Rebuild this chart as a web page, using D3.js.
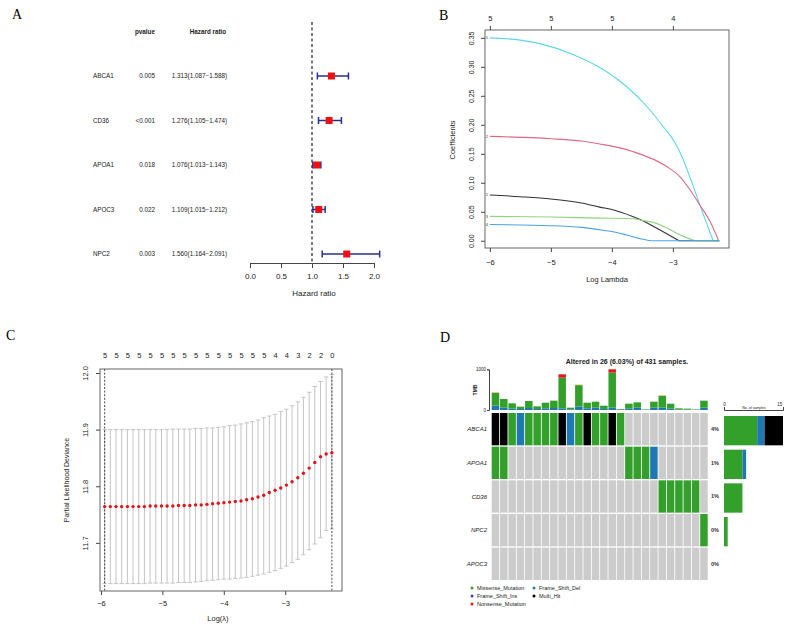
<!DOCTYPE html>
<html>
<head>
<meta charset="utf-8">
<script src="https://cdn.jsdelivr.net/npm/d3@7"></script>
<style>
  body { margin: 0; background: #fff; }
  svg { font-family: "Liberation Sans", Arial, sans-serif; }
  .panel-label { font-family: "Liberation Serif", "Times New Roman", serif; font-size: 14px; }
</style>
</head>
<body>
<svg id="chart" width="790" height="630"></svg>
<script>
// ---- A: univariate cox forest plot
const coxGenes = ['ABCA1', 'CD36', 'APOA1', 'APOC3', 'NPC2'];
const coxPvalues = ['0.005', '<0.001', '0.018', '0.022', '0.003'];
const coxHR = [1.313, 1.276, 1.076, 1.109, 1.560];
const coxLow = [1.087, 1.105, 1.013, 1.015, 1.164];
const coxHigh = [1.588, 1.474, 1.143, 1.212, 2.091];
const hrTicks = [0, 0.5, 1, 1.5, 2];

// ---- B: lasso coefficient paths  [log lambda, coefficient]
const pathCyan = [[-6, 0.350], [-5.5, 0.346], [-5.18, 0.340], [-4.63, 0.321], [-4.09, 0.292], [-3.76, 0.266],
  [-3.43, 0.232], [-3.16, 0.197], [-2.97, 0.170], [-2.85, 0.145], [-2.67, 0.095], [-2.5, 0.045], [-2.34, 0], [-2.24, 0]];
const pathPink = [[-6, 0.180], [-5, 0.176], [-4.5, 0.172], [-4.2, 0.167], [-3.66, 0.154], [-3.1, 0.128], [-2.89, 0.111],
  [-2.72, 0.088], [-2.56, 0.062], [-2.39, 0.033], [-2.25, 0], [-2.24, 0]];
const pathBlack = [[-6, 0.079], [-5.5, 0.076], [-5, 0.072], [-4.5, 0.065], [-4.2, 0.058], [-4, 0.054], [-3.66, 0.042],
  [-3.5, 0.035], [-3.27, 0.022], [-3.1, 0.012], [-2.9, 0], [-2.24, 0]];
const pathGreen = [[-6, 0.042], [-5, 0.041], [-4.2, 0.039], [-3.66, 0.038], [-3.5, 0.035], [-3.27, 0.030], [-3.1, 0.022],
  [-2.94, 0.013], [-2.64, 0], [-2.24, 0]];
const pathBlue = [[-6, 0.028], [-5, 0.026], [-4.5, 0.023], [-4.2, 0.019], [-4, 0.016], [-3.76, 0.010], [-3.55, 0.004],
  [-3.35, 0], [-2.24, 0]];
const pathLabels = ['5', '2', '1', '3', '4'];
const lambdaTicksB = [-6, -5, -4, -3];
const nzeroB = ['5', '5', '5', '4'];
const coefTicks = [0, 0.05, 0.1, 0.15, 0.2, 0.25, 0.3, 0.35];

// ---- C: cross-validation curve
const cvLambda = [-5.940, -5.848, -5.755, -5.663, -5.570, -5.478, -5.385, -5.293, -5.200, -5.108, -5.015,
  -4.923, -4.830, -4.738, -4.645, -4.553, -4.460, -4.368, -4.275, -4.183, -4.090, -3.998, -3.905, -3.813,
  -3.720, -3.628, -3.535, -3.443, -3.350, -3.258, -3.165, -3.073, -2.980, -2.888, -2.795, -2.703, -2.610,
  -2.518, -2.425, -2.333, -2.240];
const cvMean = [11.764, 11.764, 11.764, 11.764, 11.764, 11.764, 11.764, 11.764, 11.765, 11.765, 11.765,
  11.765, 11.765, 11.766, 11.766, 11.766, 11.767, 11.767, 11.768, 11.769, 11.770, 11.771, 11.772, 11.773,
  11.774, 11.776, 11.778, 11.781, 11.784, 11.789, 11.793, 11.797, 11.802, 11.808, 11.815, 11.823, 11.832,
  11.842, 11.852, 11.857, 11.859];
const cvUpper = [11.900, 11.900, 11.900, 11.900, 11.900, 11.900, 11.900, 11.900, 11.900, 11.900, 11.900,
  11.900, 11.901, 11.901, 11.901, 11.901, 11.902, 11.902, 11.903, 11.903, 11.904, 11.905, 11.907, 11.908,
  11.910, 11.912, 11.914, 11.917, 11.921, 11.924, 11.927, 11.932, 11.936, 11.942, 11.949, 11.957, 11.966,
  11.976, 11.985, 11.993, 11.997];
const cvLower = [11.628, 11.628, 11.628, 11.628, 11.628, 11.628, 11.628, 11.628, 11.629, 11.629, 11.629,
  11.629, 11.629, 11.630, 11.630, 11.630, 11.631, 11.632, 11.633, 11.634, 11.635, 11.636, 11.636, 11.637,
  11.638, 11.639, 11.641, 11.643, 11.645, 11.648, 11.651, 11.655, 11.659, 11.665, 11.671, 11.679, 11.688,
  11.698, 11.709, 11.722, 11.725];
const nzeroC = ['5', '5', '5', '5', '5', '5', '5', '5', '5', '5', '5', '5', '5', '5', '5', '4', '4', '3', '2', '2', '0'];
const lambdaTicksC = [-6, -5, -4, -3];
const devianceTicks = [11.7, 11.8, 11.9, 12.0];

// ---- D: oncoplot
const oncoGenes = ['ABCA1', 'APOA1', 'CD36', 'NPC2', 'APOC3'];
const oncoPct = ['4%', '1%', '1%', '0%', '0%'];
// M = Missense_Mutation, D = Frame_Shift_Del, H = Multi_Hit
const oncoABCA1 = ['H', 'H', 'M', 'D', 'M', 'M', 'M', 'M', 'H', 'D', 'M', 'H', 'M', 'M', 'H', 'M', '', '', '', '', '', '', '', '', '', ''];
const oncoAPOA1 = ['M', 'M', '', '', '', '', '', '', '', '', '', '', '', '', '', '', 'M', 'M', 'M', 'D', '', '', '', '', '', ''];
const oncoCD36 = ['', '', '', '', '', '', '', '', '', '', '', '', '', '', '', '', '', '', '', '', 'M', 'M', 'M', 'M', 'M', ''];
const oncoNPC2 = ['', '', '', '', '', '', '', '', '', '', '', '', '', '', '', '', '', '', '', '', '', '', '', '', '', 'M'];
const oncoAPOC3 = ['', '', '', '', '', '', '', '', '', '', '', '', '', '', '', '', '', '', '', '', '', '', '', '', '', ''];
const tmbDel = [106, 57, 33, 25, 49, 25, 41, 49, 41, 16, 82, 41, 57, 25, 57, 8, 33, 57, 8, 57, 57, 33, 8, 8, 8, 57];
const tmbMissense = [316, 213, 131, 57, 172, 65, 139, 181, 754, 41, 529, 139, 147, 81, 863, 17, 122, 131, 8, 147, 291, 122, 33, 25, 8, 172];
const tmbNonsense = [0, 0, 0, 0, 0, 0, 0, 0, 82, 0, 0, 0, 0, 0, 80, 0, 0, 0, 0, 0, 0, 0, 0, 0, 0, 0];
const tmbOther = [12, 0, 0, 0, 0, 0, 0, 0, 0, 0, 12, 0, 0, 0, 0, 0, 0, 0, 0, 0, 12, 0, 0, 0, 0, 0];
const sideMissense = [9, 5, 5, 1, 0];
const sideDel = [2, 1, 0, 0, 0];
const sideMulti = [5, 0, 0, 0, 0];
const legendNames = ['Missense_Mutation', 'Frame_Shift_Ins', 'Nonsense_Mutation', 'Frame_Shift_Del', 'Multi_Hit'];

const vcColor = {
  M: '#33A02C', D: '#1F78B4', H: '#000000', N: '#E31A1C', I: '#4B3D9A', O: '#F0A22A',
  Missense_Mutation: '#33A02C', Frame_Shift_Del: '#1F78B4', Frame_Shift_Ins: '#4B3D9A',
  Nonsense_Mutation: '#E31A1C', Multi_Hit: '#000000'
};

const svg = d3.select('#chart');
svg.append('rect').attr('width', 790).attr('height', 630).attr('fill', '#fff');

function panelLabel(x, y, t) {
  svg.append('text').attr('class', 'panel-label').attr('x', x).attr('y', y).text(t);
}

function styleAxis(g, size, keepDomain) {
  g.attr('font-family', null).attr('font-size', size);
  if (!keepDomain) g.selectAll('.domain').remove();
  g.selectAll('.domain').attr('stroke', '#444');
  g.selectAll('line').attr('stroke', '#444');
  g.selectAll('text').attr('fill', '#222');
}

// rotate left-axis labels R style (parallel to axis)
function rotateLeftLabels(g, offset) {
  g.selectAll('.tick text')
    .attr('transform', 'rotate(-90)')
    .attr('x', 0).attr('y', -offset).attr('dy', 0)
    .attr('text-anchor', 'middle');
}

// ================= A =================
panelLabel(12, 19, 'A');
const gA = svg.append('g');
const xHR = d3.scaleLinear().domain([0, 2]).range([250, 374]);
const yA = d3.scalePoint().domain(coxGenes).range([76, 254]);

const axA = gA.append('g').attr('transform', 'translate(0,263)')
  .call(d3.axisBottom(xHR).tickValues(hrTicks).tickFormat(d3.format('.1f')).tickSize(5).tickSizeOuter(0).tickPadding(5));
styleAxis(axA, 8, true);

gA.append('text').attr('x', 314).attr('y', 296).attr('text-anchor', 'middle')
  .attr('font-size', 8).attr('fill', '#222').text('Hazard ratio');

gA.append('line')
  .attr('x1', xHR(1)).attr('x2', xHR(1)).attr('y1', 22).attr('y2', 263)
  .attr('stroke', '#222').attr('stroke-width', 1.2).attr('stroke-dasharray', '3,2.5');

gA.append('text').attr('x', 145).attr('y', 34).attr('text-anchor', 'middle')
  .attr('font-size', 6.3).attr('font-weight', 'bold').attr('fill', '#222').text('pvalue');
gA.append('text').attr('x', 208).attr('y', 34).attr('text-anchor', 'middle')
  .attr('font-size', 6.3).attr('font-weight', 'bold').attr('fill', '#222').text('Hazard ratio');

const rowsA = gA.selectAll('.cox-row')
  .data(coxGenes.map((g, i) => ({ gene: g, p: coxPvalues[i], hr: coxHR[i], lo: coxLow[i], hi: coxHigh[i] })))
  .join('g').attr('class', 'cox-row')
  .attr('transform', d => `translate(0,${yA(d.gene)})`);

rowsA.append('text').attr('x', 93).attr('dy', '0.35em').attr('font-size', 6.3).attr('fill', '#222').text(d => d.gene);
rowsA.append('text').attr('x', 155).attr('dy', '0.35em').attr('text-anchor', 'end')
  .attr('font-size', 6.3).attr('fill', '#222').text(d => d.p);
rowsA.append('text').attr('x', 227).attr('dy', '0.35em').attr('text-anchor', 'end')
  .attr('font-size', 6.3).attr('fill', '#222')
  .text(d => `${d.hr.toFixed(3)}(${d.lo.toFixed(3)}\u2212${d.hi.toFixed(3)})`);

const navy = '#27308f';
rowsA.append('line').attr('x1', d => xHR(d.lo)).attr('x2', d => xHR(d.hi))
  .attr('stroke', navy).attr('stroke-width', 1.5);
rowsA.append('line').attr('x1', d => xHR(d.lo)).attr('x2', d => xHR(d.lo)).attr('y1', -3.5).attr('y2', 3.5)
  .attr('stroke', navy).attr('stroke-width', 1.5);
rowsA.append('line').attr('x1', d => xHR(d.hi)).attr('x2', d => xHR(d.hi)).attr('y1', -3.5).attr('y2', 3.5)
  .attr('stroke', navy).attr('stroke-width', 1.5);
rowsA.append('rect').attr('x', d => xHR(d.hr) - 3.5).attr('y', -3.5).attr('width', 7).attr('height', 7)
  .attr('fill', '#ee1111');

// ================= B =================
panelLabel(439, 20, 'B');
const gB = svg.append('g');
const xB = d3.scaleLinear().domain([-6.08, -2.08]).range([485, 729]);
const yB = d3.scaleLinear().domain([-0.0125, 0.3635]).range([248, 30]);

const axBl = gB.append('g').attr('transform', 'translate(485,0)')
  .call(d3.axisLeft(yB).tickValues(coefTicks).tickFormat(d3.format('.2f')).tickSize(4));
styleAxis(axBl, 7);
rotateLeftLabels(axBl, 11);

const axBb = gB.append('g').attr('transform', 'translate(0,248)')
  .call(d3.axisBottom(xB).tickValues(lambdaTicksB).tickFormat(d => d < 0 ? '\u2212' + Math.abs(d) : d).tickSize(4).tickPadding(8));
styleAxis(axBb, 7.5);

const axBt = gB.append('g').attr('transform', 'translate(0,30)')
  .call(d3.axisTop(xB).tickValues(lambdaTicksB).tickFormat((d, i) => nzeroB[i]).tickSize(4).tickPadding(5));
styleAxis(axBt, 7.5);

const pathsB = [pathCyan, pathPink, pathBlack, pathGreen, pathBlue];
const colorsB = ['#5ad8e6', '#de6a80', '#333333', '#8fd27f', '#4aa3e8'];
const lineB = d3.line().x(d => xB(d[0])).y(d => yB(d[1]));
pathsB.forEach((pts, i) => {
  const zeroAt = pts.findIndex(p => p[1] === 0);
  gB.append('path').attr('d', lineB.curve(d3.curveMonotoneX)(pts.slice(0, zeroAt + 1)))
    .attr('fill', 'none').attr('stroke', colorsB[i]).attr('stroke-width', 1.1);
  gB.append('path').attr('d', lineB.curve(d3.curveLinear)(pts.slice(zeroAt)))
    .attr('fill', 'none').attr('stroke', colorsB[i]).attr('stroke-width', 1.1);
  gB.append('text').attr('x', xB(pts[0][0]) - 3).attr('y', yB(pts[0][1])).attr('dy', '0.35em')
    .attr('text-anchor', 'middle').attr('font-size', 4).attr('fill', '#333').text(pathLabels[i]);
});

gB.append('rect').attr('x', 485).attr('y', 30).attr('width', 244).attr('height', 218)
  .attr('fill', 'none').attr('stroke', '#555').attr('stroke-width', 0.9);

gB.append('text').attr('transform', 'translate(455,140) rotate(-90)').attr('text-anchor', 'middle')
  .attr('font-size', 7.5).attr('fill', '#222').text('Coefficients');
gB.append('text').attr('x', 607).attr('y', 282).attr('text-anchor', 'middle')
  .attr('font-size', 7.5).attr('fill', '#222').text('Log Lambda');

// ================= C =================
panelLabel(6, 340, 'C');
const gC = svg.append('g');
const xC = d3.scaleLinear().domain([-6.016, -2.075]).range([100, 342]);
const yC = d3.scaleLinear().domain([11.615, 12.007]).range([591, 369]);

const axCl = gC.append('g').attr('transform', 'translate(100,0)')
  .call(d3.axisLeft(yC).tickValues(devianceTicks).tickFormat(d3.format('.1f')).tickSize(4));
styleAxis(axCl, 7.5);
rotateLeftLabels(axCl, 12);

const axCb = gC.append('g').attr('transform', 'translate(0,591)')
  .call(d3.axisBottom(xC).tickValues(lambdaTicksC).tickFormat(d => d < 0 ? '\u2212' + Math.abs(d) : d).tickSize(4).tickPadding(6));
styleAxis(axCb, 7.5);

const topLambdaC = cvLambda.filter((d, i) => i % 2 === 0);
const axCt = gC.append('g').attr('transform', 'translate(0,369)')
  .call(d3.axisTop(xC).tickValues(topLambdaC).tickFormat((d, i) => nzeroC[i]).tickSize(0).tickPadding(11));
styleAxis(axCt, 7.5);

const cvData = cvLambda.map((l, i) => ({ l, m: cvMean[i], up: cvUpper[i], lo: cvLower[i] }));
const errC = gC.selectAll('.cv-err').data(cvData).join('g').attr('class', 'cv-err');
errC.append('line').attr('x1', d => xC(d.l)).attr('x2', d => xC(d.l))
  .attr('y1', d => yC(d.lo)).attr('y2', d => yC(d.up)).attr('stroke', '#c4c4c4').attr('stroke-width', 1);
errC.append('line').attr('x1', d => xC(d.l) - 2.2).attr('x2', d => xC(d.l) + 2.2)
  .attr('y1', d => yC(d.up)).attr('y2', d => yC(d.up)).attr('stroke', '#c4c4c4').attr('stroke-width', 1);
errC.append('line').attr('x1', d => xC(d.l) - 2.2).attr('x2', d => xC(d.l) + 2.2)
  .attr('y1', d => yC(d.lo)).attr('y2', d => yC(d.lo)).attr('stroke', '#c4c4c4').attr('stroke-width', 1);

[cvLambda[0], cvLambda[cvLambda.length - 1]].forEach(l => {
  gC.append('line').attr('x1', xC(l)).attr('x2', xC(l)).attr('y1', 369).attr('y2', 591)
    .attr('stroke', '#333').attr('stroke-width', 0.9).attr('stroke-dasharray', '2,1.6');
});

gC.selectAll('.cv-dot').data(cvData).join('circle').attr('class', 'cv-dot')
  .attr('cx', d => xC(d.l)).attr('cy', d => yC(d.m)).attr('r', 1.7).attr('fill', '#e3121b');

gC.append('rect').attr('x', 100).attr('y', 369).attr('width', 242).attr('height', 222)
  .attr('fill', 'none').attr('stroke', '#555').attr('stroke-width', 0.9);

gC.append('text').attr('transform', 'translate(69,480) rotate(-90)').attr('text-anchor', 'middle')
  .attr('font-size', 7).attr('fill', '#222').text('Partial Likelihood Deviance');
gC.append('text').attr('x', 218).attr('y', 621).attr('text-anchor', 'middle')
  .attr('font-size', 7.5).attr('fill', '#222').text('Log(\u03bb)');

// ================= D =================
panelLabel(440, 342, 'D');
const gD = svg.append('g');
const samples = d3.range(oncoABCA1.length);
const xD = d3.scaleBand().domain(samples).range([491.7, 707.7]).paddingInner(0.1);
const yD = d3.scaleBand().domain(oncoGenes).range([413, 580]).paddingInner(0.04);
const oncoRows = [oncoABCA1, oncoAPOA1, oncoCD36, oncoNPC2, oncoAPOC3];

gD.append('text').attr('x', 627).attr('y', 364).attr('text-anchor', 'middle')
  .attr('font-size', 7).attr('font-weight', 'bold').attr('fill', '#222')
  .text('Altered in 26 (6.03%) of 431 samples.');

// TMB bars
const yTMB = d3.scaleLinear().domain([0, 1000]).range([410, 369.3]);
const tmbRows = samples.map(i => ({ i, del: tmbDel[i], missense: tmbMissense[i], nonsense: tmbNonsense[i], other: tmbOther[i] }));
const tmbKeys = ['del', 'missense', 'nonsense', 'other'];
const tmbColors = { del: vcColor.D, missense: vcColor.M, nonsense: vcColor.N, other: vcColor.O };
const tmbStack = d3.stack().keys(tmbKeys)(tmbRows);
gD.selectAll('.tmb').data(tmbStack).join('g').attr('class', 'tmb')
  .attr('fill', s => tmbColors[s.key])
  .selectAll('rect').data(s => s).join('rect')
  .attr('x', d => xD(d.data.i)).attr('width', xD.bandwidth())
  .attr('y', d => yTMB(d[1])).attr('height', d => yTMB(d[0]) - yTMB(d[1]));

const axTMB = gD.append('g').attr('transform', 'translate(489,0)')
  .call(d3.axisLeft(yTMB).tickValues([0, 1000]).tickFormat(d3.format('d')).tickSize(2).tickPadding(1));
styleAxis(axTMB, 4.5, true);
gD.append('text').attr('transform', 'translate(477,390) rotate(-90)').attr('text-anchor', 'middle')
  .attr('font-size', 5).attr('font-weight', 'bold').attr('fill', '#222').text('TMB');

// oncoprint grid
oncoGenes.forEach((gene, r) => {
  const rowG = gD.append('g');
  rowG.selectAll('rect.bg').data(oncoRows[r]).join('rect').attr('class', 'bg')
    .attr('x', (d, i) => xD(i)).attr('y', yD(gene))
    .attr('width', xD.bandwidth()).attr('height', yD.bandwidth())
    .attr('fill', d => d ? vcColor[d] : '#cccccc');
  rowG.append('text').attr('x', 487).attr('y', yD(gene) + yD.bandwidth() / 2).attr('dy', '0.35em')
    .attr('text-anchor', 'end').attr('font-size', 6).attr('font-style', 'italic').attr('fill', '#222').text(gene);
  rowG.append('text').attr('x', 711).attr('y', yD(gene) + yD.bandwidth() / 2).attr('dy', '0.35em')
    .attr('font-size', 5.5).attr('font-weight', 'bold').attr('fill', '#333').text(oncoPct[r]);
});

// side bar: number of samples
const xS = d3.scaleLinear().domain([0, 16]).range([724, 783]);
const sideRows = oncoGenes.map((g, i) => ({ gene: g, missense: sideMissense[i], del: sideDel[i], multi: sideMulti[i] }));
const sideColors = { missense: vcColor.M, del: vcColor.D, multi: vcColor.H };
const sideStack = d3.stack().keys(['missense', 'del', 'multi'])(sideRows);
gD.selectAll('.side').data(sideStack).join('g').attr('class', 'side')
  .attr('fill', s => sideColors[s.key])
  .selectAll('rect').data(s => s).join('rect')
  .attr('x', d => xS(d[0])).attr('width', d => xS(d[1]) - xS(d[0]))
  .attr('y', d => yD(d.data.gene) + 3).attr('height', yD.bandwidth() - 3);

const axS = gD.append('g').attr('transform', 'translate(0,410)')
  .call(d3.axisTop(xS).tickValues([0, 15]).tickSize(0).tickSizeOuter(3).tickPadding(4));
styleAxis(axS, 4.5, true);
gD.append('text').attr('x', 754).attr('y', 408.5).attr('text-anchor', 'middle')
  .attr('font-size', 3.5).attr('fill', '#222').text('No. of samples');

// legend
const leg = gD.selectAll('.leg').data(legendNames).join('g').attr('class', 'leg')
  .attr('transform', (d, i) => `translate(${472 + Math.floor(i / 3) * 62},${588 + (i % 3) * 8})`);
leg.append('circle').attr('r', 1.5).attr('fill', d => vcColor[d]);
leg.append('text').attr('x', 5).attr('dy', '0.35em').attr('font-size', 5.5).attr('fill', '#222').text(d => d);
</script>
</body>
</html>
